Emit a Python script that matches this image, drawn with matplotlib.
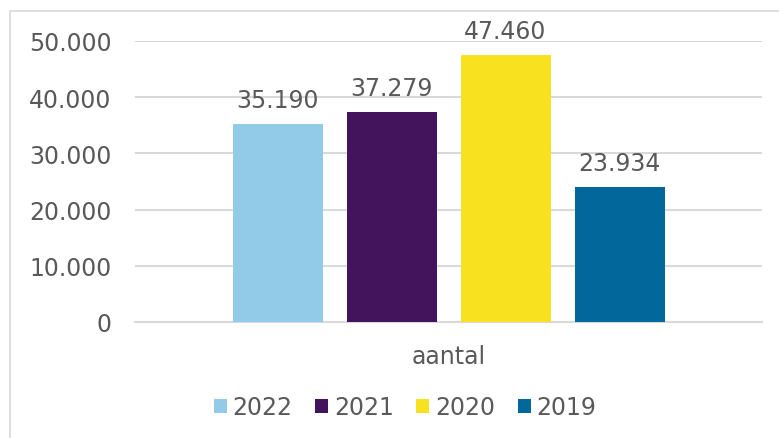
import matplotlib.pyplot as plt
from matplotlib.patches import Rectangle
from matplotlib.ticker import FuncFormatter

# Data
categories = ['aantal']
years = ['2022', '2021', '2020', '2019']
values = [35190, 37279, 47460, 23934]
colors = ['#92CBE7', '#43145B', '#F8E11F', '#02679B']

text_color = '#595959'
grid_color = '#D9D9D9'

plt.rcParams['font.family'] = ['DejaVu Sans']


def dotted(v, pos=None):
    return f'{int(v):,}'.replace(',', '.')


fig = plt.figure(figsize=(7.79, 4.39), dpi=100)
ax = fig.add_axes([135 / 779, 1 - 323 / 439, 627 / 779, 281 / 439])

# Bars, one series per year, grouped around the single category
spacing = 1.0
width = 90 / 114
offsets = [(i - 1.5) * spacing for i in range(len(years))]
handles = []
for off, year, val, col in zip(offsets, years, values, colors):
    b = ax.bar(off, val, width=width, color=col, label=year, zorder=3)
    handles.append(b)
    ax.annotate(dotted(val), (off, val), xytext=(0, 9), textcoords='offset points',
                ha='center', va='bottom', fontsize=17, color=text_color)

ax.set_xlim(-2.75, 2.75)
ax.set_ylim(0, 50000)
ax.set_yticks(range(0, 50001, 10000))
ax.yaxis.set_major_formatter(FuncFormatter(dotted))
ax.set_xticks([0])
ax.set_xticklabels(categories)
ax.tick_params(axis='both', length=0, labelsize=17, labelcolor=text_color)
ax.tick_params(axis='y', pad=17)
ax.tick_params(axis='x', pad=16)
ax.grid(axis='y', color=grid_color, linewidth=1.5, zorder=0)
for s in ['top', 'right', 'left']:
    ax.spines[s].set_visible(False)
ax.spines['bottom'].set_color(grid_color)
ax.spines['bottom'].set_linewidth(1.5)

# Legend at the bottom
leg = fig.legend(handles=handles, labels=years, loc='center', ncol=4,
                 bbox_to_anchor=(405 / 779, 1 - 408 / 439), frameon=False,
                 fontsize=17, handlelength=0.55, handleheight=0.55,
                 handletextpad=0.25, columnspacing=0.95, borderpad=0)
for t in leg.get_texts():
    t.set_color(text_color)

# Chart area border (only left/top edges are visible in the crop)
fig.patches.append(Rectangle((10 / 779, -0.1), 1.2, 1 - 12 / 439 + 0.1,
                             transform=fig.transFigure, fill=False,
                             edgecolor=grid_color, linewidth=1.2))

fig.savefig('out.png', dpi=100)
